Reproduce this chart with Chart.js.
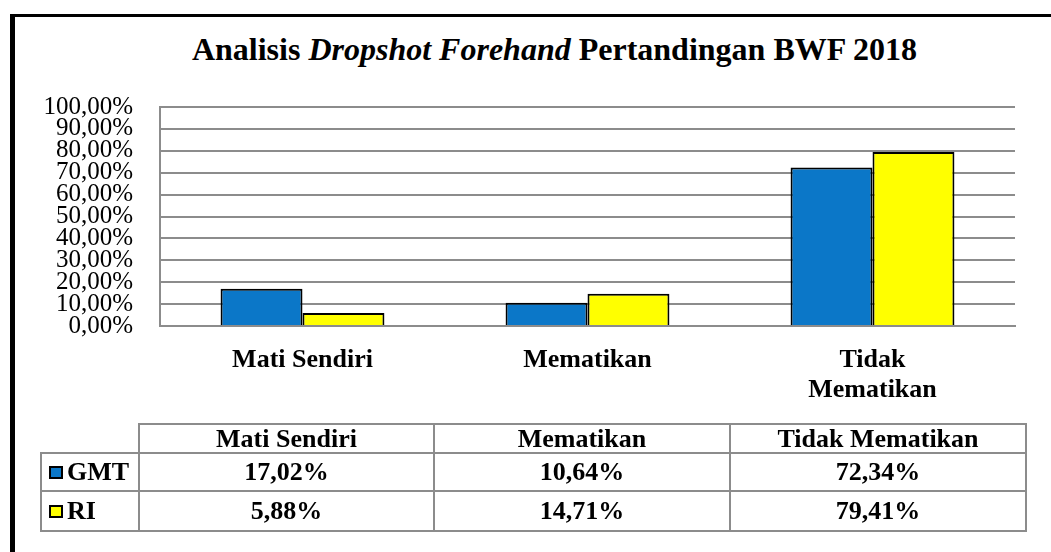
<!DOCTYPE html>
<html>
<head>
<meta charset="utf-8">
<script src="https://cdn.jsdelivr.net/npm/chart.js@4.4.1/dist/chart.umd.min.js"></script>
<style>
  body { margin: 0; background: #fff; font-family: 'Liberation Serif', serif; }
  #wrap { position: relative; width: 1051px; height: 552px; overflow: hidden; font-family: 'Liberation Serif', serif; }
  #frame { position: absolute; left: 10px; top: 14px; right: -10px; bottom: -10px; border-left: 5px solid #000; border-top: 3px solid #000; }
  #title { position: absolute; left: 0; width: 1109px; top: 30px; text-align: center; font-size: 32px; font-weight: bold; line-height: 38px; }
  canvas { position: absolute; left: 0; top: 0; }
  .cell { position: absolute; box-sizing: border-box; border: 2px solid #8c8c8c; text-align: center; font-size: 26px; font-weight: bold; white-space: nowrap; }
  .key { display: inline-block; width: 14px; height: 13px; box-sizing: border-box; border: 2px solid #000; margin: 0 4px 0 7px; vertical-align: 1px; }
</style>
</head>
<body>
<div id="wrap">
  <div id="frame"></div>
  <div id="title">Analisis <i>Dropshot Forehand</i> Pertandingan BWF 2018</div>
  <canvas id="chart" width="1051" height="552"></canvas>
  <div id="table"></div>
</div>
<script>
const categories = ["Mati Sendiri", "Mematikan", "Tidak Mematikan"];
const axisLabels = ["Mati Sendiri", "Mematikan", ["Tidak", "Mematikan"]];
const seriesNames = ["GMT", "RI"];
const gmtValues = [17.02, 10.64, 72.34];
const riValues = [5.88, 14.71, 79.41];
const seriesColors = ["#0b77c8", "#ffff00"];

const pct = v => v.toFixed(2).replace(".", ",") + "%";

Chart.defaults.font.family = "'Liberation Serif', serif";

new Chart(document.getElementById("chart"), {
    type: "bar",
    data: {
        labels: axisLabels,
        datasets: [
            { label: seriesNames[0], data: gmtValues, backgroundColor: seriesColors[0], borderColor: "#000", borderWidth: 2 },
            { label: seriesNames[1], data: riValues, backgroundColor: seriesColors[1], borderColor: "#000", borderWidth: 2 }
        ]
    },
    options: {
        responsive: false,
        animation: false,
        layout: { padding: { top: 107, right: 36, bottom: 0, left: 0 } },
        datasets: { bar: { categoryPercentage: 0.575, barPercentage: 1 } },
        plugins: { legend: { display: false }, tooltip: { enabled: false } },
        scales: {
            x: {
                grid: { display: false },
                border: { color: "#8c8c8c", width: 2 },
                ticks: { color: "#000", padding: 11, maxRotation: 0, font: { size: 26, weight: "bold", lineHeight: 1.15 } },
                afterFit: scale => { scale.height = 226; }
            },
            y: {
                min: 0,
                max: 100,
                grid: { color: "#8c8c8c", lineWidth: 2, drawTicks: false },
                border: { color: "#8c8c8c", width: 2 },
                ticks: { stepSize: 10, autoSkip: false, color: "#000", padding: 27, callback: v => pct(v), font: { size: 25 } },
                afterFit: scale => { scale.width = 160; }
            }
        }
    }
});

// data table under the chart
const colEdges = [41, 139, 434, 730, 1026];
const rowEdges = [424, 453, 491, 531];
const table = document.getElementById("table");
function addCell(c, r, html, align) {
    const d = document.createElement("div");
    d.className = "cell";
    d.style.left = (colEdges[c] - 1) + "px";
    d.style.top = (rowEdges[r] - 1) + "px";
    d.style.width = (colEdges[c + 1] - colEdges[c] + 2) + "px";
    d.style.height = (rowEdges[r + 1] - rowEdges[r] + 2) + "px";
    d.style.lineHeight = (rowEdges[r + 1] - rowEdges[r] - 2) + "px";
    if (align) d.style.textAlign = align;
    d.innerHTML = html;
    table.appendChild(d);
}
categories.forEach((c, i) => addCell(i + 1, 0, c));
[gmtValues, riValues].forEach((vals, s) => {
    addCell(0, s + 1, '<span class="key" style="background:' + seriesColors[s] + '"></span>' + seriesNames[s], "left");
    vals.forEach((v, i) => addCell(i + 1, s + 1, pct(v)));
});
</script>
</body>
</html>
